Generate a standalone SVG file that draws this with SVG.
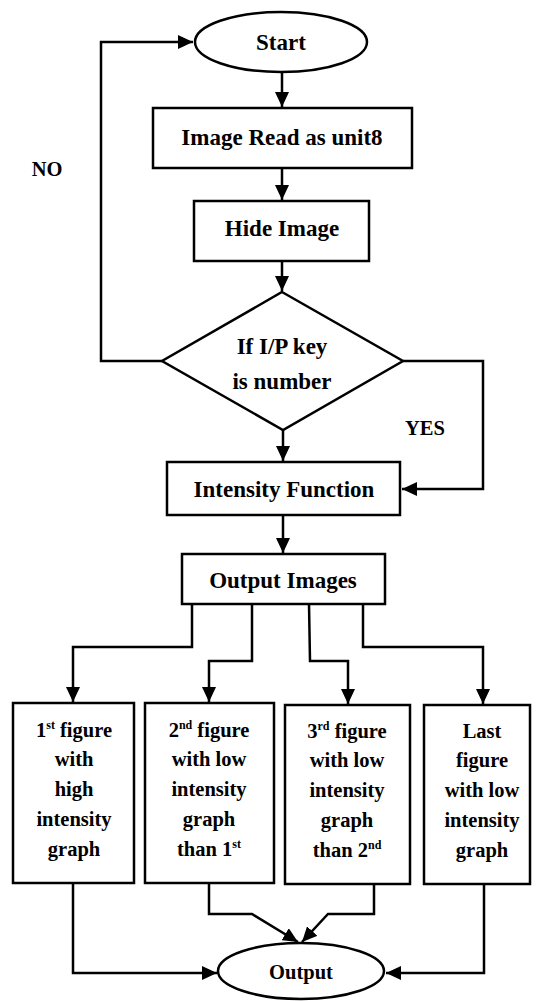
<svg xmlns="http://www.w3.org/2000/svg" width="541" height="1001" viewBox="0 0 541 1001">
<style>
.s{fill:#fff;stroke:#000;stroke-width:2.5}
.c{fill:none;stroke:#000;stroke-width:2.5}
.t{font-family:"Liberation Serif","Times New Roman",serif;font-weight:bold;font-size:23px;text-anchor:middle;fill:#000}
.b{font-size:20.5px}
.sup{font-size:12px}
</style>
<defs>
<marker id="ah" markerUnits="userSpaceOnUse" markerWidth="15" markerHeight="14" refX="15" refY="7" orient="auto">
<path d="M0,0 L15,7 L0,14 z" fill="#000"/>
</marker>
</defs>
<rect width="541" height="1001" fill="#fff"/>
<g id="connectors">
<path class="c" d="M162,361 H101 V42 H193" marker-end="url(#ah)"/>
<path class="c" d="M282,72 V107" marker-end="url(#ah)"/>
<path class="c" d="M282,168 V200" marker-end="url(#ah)"/>
<path class="c" d="M282,261 V291" marker-end="url(#ah)"/>
<path class="c" d="M283,430 V461" marker-end="url(#ah)"/>
<path class="c" d="M403,361 H483 V489 H402" marker-end="url(#ah)"/>
<path class="c" d="M283,515 V553" marker-end="url(#ah)"/>
<path class="c" d="M192,604 V647 H73 V702" marker-end="url(#ah)"/>
<path class="c" d="M252,604 V661 H209 V702" marker-end="url(#ah)"/>
<path class="c" d="M309,604 L310,661 H348 V704" marker-end="url(#ah)"/>
<path class="c" d="M363,604 V647 H483 V704" marker-end="url(#ah)"/>
<path class="c" d="M73,883 V973 H217" marker-end="url(#ah)"/>
<path class="c" d="M209,883 V914 H252 L298,942" marker-end="url(#ah)"/>
<path class="c" d="M374,884 V914 H328 L302,942" marker-end="url(#ah)"/>
<path class="c" d="M484,884 V973 H386" marker-end="url(#ah)"/>
</g>
<g id="start">
<ellipse class="s" cx="281" cy="42" rx="86" ry="30"/>
<text class="t" x="281" y="50">Start</text>
</g>
<g id="read">
<rect class="s" x="153" y="108" width="259" height="60"/>
<text class="t" x="282" y="145">Image Read as unit8</text>
</g>
<g id="hide">
<rect class="s" x="194" y="201" width="175" height="60"/>
<text class="t" x="282" y="236">Hide Image</text>
</g>
<g id="decision">
<polygon class="s" points="282,292 403,361 283,430 162,361"/>
<text class="t" x="282" y="354">If I/P key</text>
<text class="t" x="282" y="389">is number</text>
</g>
<g id="labels">
<text class="t b" x="47" y="176">NO</text>
<text class="t b" x="425" y="435">YES</text>
</g>
<g id="intensity">
<rect class="s" x="167" y="462" width="233" height="53"/>
<text class="t" x="284" y="497">Intensity Function</text>
</g>
<g id="outimages">
<rect class="s" x="182" y="554" width="203" height="50"/>
<text class="t" x="283" y="588">Output Images</text>
</g>
<g id="fig1">
<rect class="s" x="13" y="703" width="121" height="180"/>
<text class="t b" x="74" y="737">1<tspan class="sup" dy="-8">st</tspan><tspan dy="8"> figure</tspan></text>
<text class="t b" x="74" y="766">with</text>
<text class="t b" x="74" y="796">high</text>
<text class="t b" x="74" y="826">intensity</text>
<text class="t b" x="74" y="856">graph</text>
</g>
<g id="fig2">
<rect class="s" x="145" y="703" width="129" height="180"/>
<text class="t b" x="209" y="737">2<tspan class="sup" dy="-8">nd</tspan><tspan dy="8"> figure</tspan></text>
<text class="t b" x="209" y="766">with low</text>
<text class="t b" x="209" y="796">intensity</text>
<text class="t b" x="209" y="826">graph</text>
<text class="t b" x="209" y="856">than 1<tspan class="sup" dy="-8">st</tspan></text>
</g>
<g id="fig3">
<rect class="s" x="285" y="705" width="125" height="179"/>
<text class="t b" x="347" y="738">3<tspan class="sup" dy="-8">rd</tspan><tspan dy="8"> figure</tspan></text>
<text class="t b" x="347" y="767">with low</text>
<text class="t b" x="347" y="797">intensity</text>
<text class="t b" x="347" y="827">graph</text>
<text class="t b" x="347" y="857">than 2<tspan class="sup" dy="-8">nd</tspan></text>
</g>
<g id="fig4">
<rect class="s" x="424" y="705" width="106" height="179"/>
<text class="t b" x="482" y="738">Last</text>
<text class="t b" x="482" y="767">figure</text>
<text class="t b" x="482" y="797">with low</text>
<text class="t b" x="482" y="827">intensity</text>
<text class="t b" x="482" y="857">graph</text>
</g>
<g id="output">
<ellipse class="s" cx="301" cy="971" rx="83" ry="28"/>
<text class="t b" x="301" y="979">Output</text>
</g>
</svg>
